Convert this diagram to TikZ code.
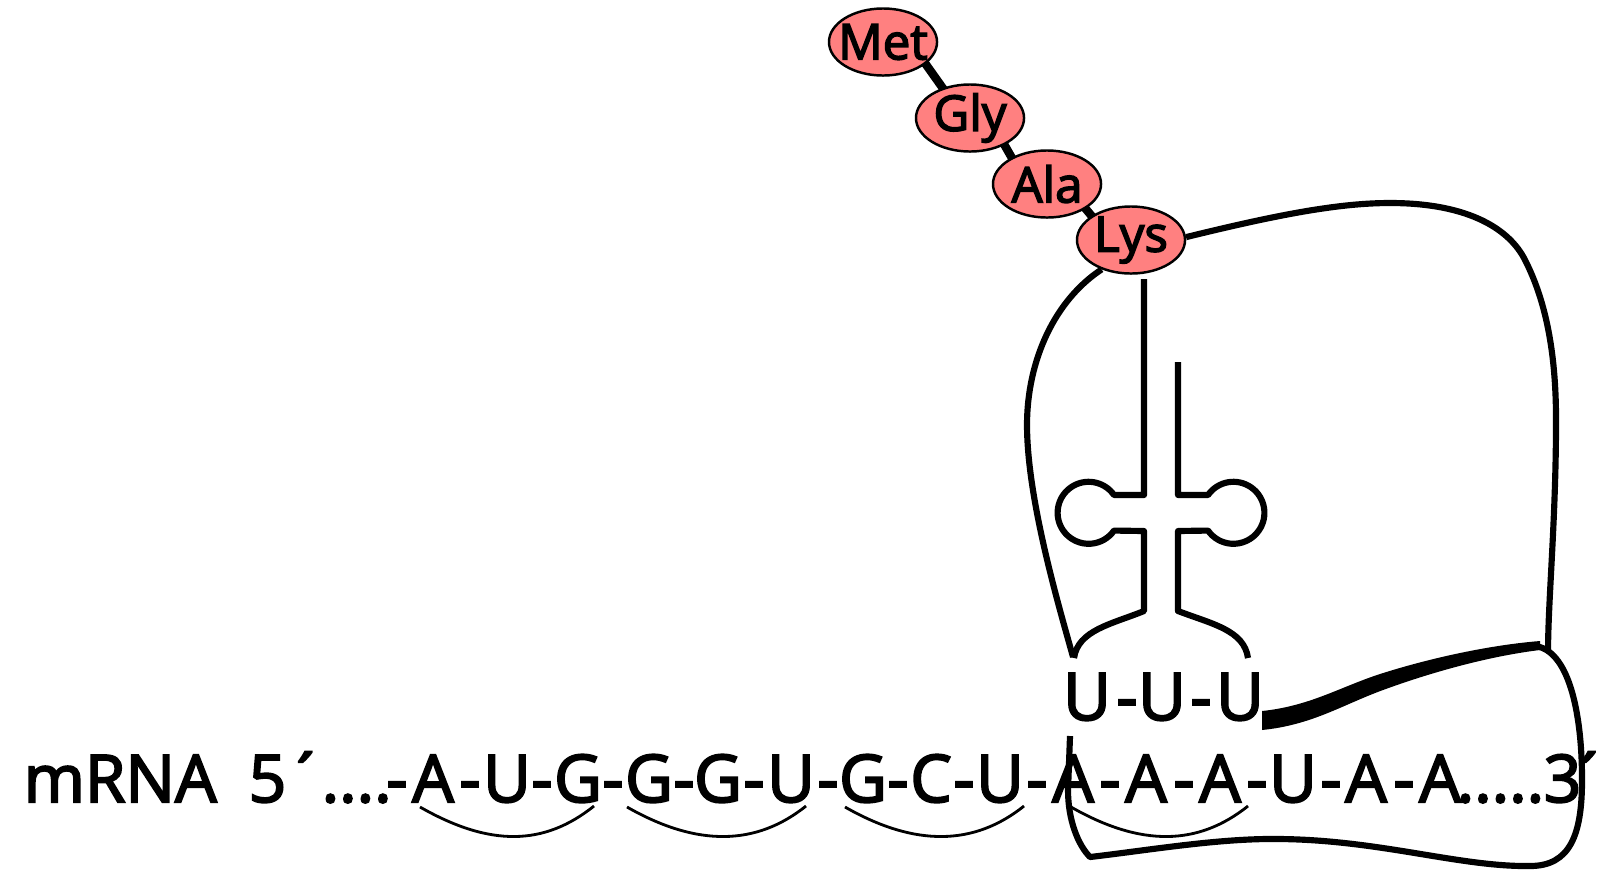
\documentclass[tikz,border=0pt]{standalone}
\usepackage{fontspec}
\setmainfont{Open Sans}[FakeBold=3]
\usetikzlibrary{shapes.geometric}
\definecolor{aminored}{RGB}{255,128,128}
\pgfdeclarelayer{back}
\pgfsetlayers{back,main}

\begin{document}
\begin{tikzpicture}[x=0.01cm,y=-0.01cm,
  base/.style={anchor=base,inner sep=0pt,font=\fontsize{18.7}{20}\selectfont},
  amino/.style={ellipse,draw,line width=0.7pt,fill=aminored,minimum width=1.08cm,
    minimum height=0.67cm,inner sep=-3pt,font=\fontsize{14}{16}\selectfont},
  bond/.style={line width=2.4pt},
  body/.style={line width=1.75pt,line join=round},
  codon/.style={line width=0.8pt}]
\useasboundingbox (0,0) rectangle (1607,869);

% growing peptide
\node[amino] (met) at (883,42) {Met};
\node[amino] (gly) at (970,118) {Gly};
\node[amino] (ala) at (1047,184) {Ala};
\node[amino] (lys) at (1131,240) {Lys};
\begin{pgfonlayer}{back}
\draw[bond] ([shift={(27,0)}]met.center) -- ([shift={(-6,0)}]gly.center);
\draw[bond] ([shift={(22,5)}]gly.center) -- ([shift={(-22,-3)}]ala.center);
\draw[bond] ([shift={(13,-6)}]ala.center) -- ([shift={(-21,-2)}]lys.center);
\end{pgfonlayer}

% large subunit
\draw[body] (lys.3) .. controls (1280,214) and (1340,203) .. (1390,203)
  .. controls (1470,203) and (1510,230) .. (1525,260)
  .. controls (1548,305) and (1556,360) .. (1556,420)
  .. controls (1556,520) and (1548,600) .. (1548,652);
\draw[body] (lys.-135) .. controls (1055,300) and (1027,360) .. (1027,425)
  .. controls (1027,500) and (1060,610) .. (1073,657);

% tRNA, left and right strand
\draw[body] (1144,279) -- (1144,495) -- (1114,495)
  arc[start angle=-35,end angle=-325,radius=31] -- (1144,531) -- (1144,611)
  .. controls (1112,624) and (1078,630) .. (1074,658);
\draw[body] (1178,362) -- (1178,495) -- (1208,495)
  arc[start angle=-145,end angle=145,radius=31] -- (1178,531) -- (1178,611)
  .. controls (1212,624) and (1244,630) .. (1248,658);

% anticodon
\foreach \b/\x [count=\i] in {U/1087,-/1127,U/1162,-/1201,U/1240}
  \node[base] (ac\i) at (\x,720) {\b};

% small subunit
\draw[body] (1070,736) -- (1068,790) .. controls (1068,820) and (1078,845) .. (1090,857)
  .. controls (1150,850) and (1220,838) .. (1280,839)
  .. controls (1380,840) and (1460,867) .. (1530,866)
  .. controls (1570,866) and (1582,835) .. (1582,780)
  .. controls (1582,710) and (1568,650) .. (1535,646);
\fill (1262,711) .. controls (1310,706) and (1340,687) .. (1380,674)
  .. controls (1430,658) and (1490,645) .. (1540,641) -- (1540,650)
  .. controls (1490,656) and (1432,672) .. (1383,690)
  .. controls (1342,705) and (1312,725) .. (1262,730) -- cycle;

% mRNA strand
\node[base,anchor=base west] (mrna) at (23,802) {mRNA};
\node[base,anchor=base west] (five) at (248,802) {5´\kern-0.25em};
\node[base,anchor=base west] (dotsl) at (321,802) {....};
\foreach \b/\x [count=\i] in {A/433,U/507,G/578,G/649,G/718,U/791,G/863,C/931,
    U/1000,A/1073,A/1146,A/1220,U/1293,A/1366,A/1440}
  \node[base] (b\i) at (\x,802) {\b};
\foreach \x [count=\i] in {397,470,542,613,684,754,828,898,964,1037,1110,1184,1257,1331,1404}
  \node[base] (h\i) at (\x,802) {-};
\node[base,anchor=base west] (dotsr) at (1456,802) {.....};
\node[base,anchor=base west] (three) at (1543,802) {3\kern-0.18em´};

% codons
\foreach \s/\e/\l/\r in {1/3/-13/16,4/6/-22/15,7/9/-18/24,10/12/-2/28}
  \draw[codon] ([shift={(\l,5)}]b\s.base) .. controls +(70,40) and +(-50,40)
    .. ([shift={(\r,4)}]b\e.base);
\end{tikzpicture}
\end{document}
